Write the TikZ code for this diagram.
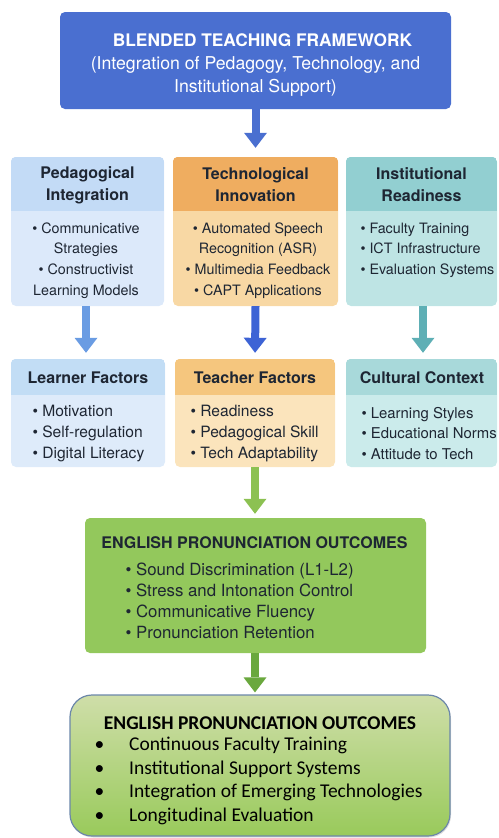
\documentclass[tikz,border=0pt]{standalone}
\usepackage{fontspec}
\setmainfont{TeX Gyre Heros}
\newfontfamily\calibri{Carlito}
\usetikzlibrary{arrows.meta,shadows}
\definecolor{frameblue}{HTML}{4A6FD0}
\definecolor{inkdark}{HTML}{1E2633}
\definecolor{pedH}{HTML}{C3DBF6}
\definecolor{pedB}{HTML}{DCE9FA}
\definecolor{techH}{HTML}{EFAD60}
\definecolor{techB}{HTML}{F8D8A4}
\definecolor{instH}{HTML}{92CFD1}
\definecolor{instB}{HTML}{BEE4E4}
\definecolor{learnH}{HTML}{C2DDF5}
\definecolor{learnB}{HTML}{DEEBFA}
\definecolor{teachH}{HTML}{F5C67E}
\definecolor{teachB}{HTML}{FBE4BC}
\definecolor{cultH}{HTML}{A8D9DA}
\definecolor{cultB}{HTML}{CBEBEB}
\definecolor{arrowL}{HTML}{6A9CE3}
\definecolor{arrowM}{HTML}{3D63D5}
\definecolor{arrowR}{HTML}{5EAFB5}
\definecolor{greenA}{HTML}{8CC152}
\definecolor{greenB}{HTML}{6AA83E}
\definecolor{outcome}{HTML}{93C85C}
\definecolor{recTop}{HTML}{CFDEA9}
\definecolor{recBot}{HTML}{99CA5B}
\definecolor{recLine}{HTML}{6C87AA}
\tikzset{
  box/.style={rounded corners=5pt, inner sep=0pt},
  headtxt/.style={font=\fontsize{16}{22}\selectfont\bfseries, text=inkdark, align=center},
  listtxt/.style={font=\fontsize{14.3}{20.6}\selectfont, text=inkdark},
  bigarrow/.style={line width=8pt, -{Triangle[width=23pt,length=15pt,line width=0pt]}},
}
\begin{document}
\begin{tikzpicture}[x=1pt,y=-1pt]
\useasboundingbox (0,0) rectangle (498,838);
% framework box
\node[box, fill=frameblue, minimum width=391pt, minimum height=97pt] (frame) at (255.5,60.5) {};
\node[text=white, align=center, font=\fontsize{17.7}{23}\selectfont] (frametxt) at (255.5,65)
  {\hspace*{14pt}\textbf{\fontsize{17.3}{23}\selectfont BLENDED TEACHING FRAMEWORK}\\(Integration of Pedagogy, Technology, and\\Institutional Support)};
% first row
\node[box, fill=pedB, minimum width=153pt, minimum height=149pt] (ped) at (87.5,231.5) {};
\node[box, fill=techB, minimum width=165pt, minimum height=149pt] (tech) at (255.5,231.5) {};
\node[box, fill=instB, minimum width=151pt, minimum height=149pt] (inst) at (421.5,231.5) {};
\begin{scope}
  \clip[rounded corners=5pt] (ped.north west) rectangle (ped.south east);
  \fill[pedH] (ped.north west) rectangle ([yshift=-54pt]ped.north east);
\end{scope}
\begin{scope}
  \clip[rounded corners=5pt] (tech.north west) rectangle (tech.south east);
  \fill[techH] (tech.north west) rectangle ([yshift=-54pt]tech.north east);
\end{scope}
\begin{scope}
  \clip[rounded corners=5pt] (inst.north west) rectangle (inst.south east);
  \fill[instH] (inst.north west) rectangle ([yshift=-54pt]inst.north east);
\end{scope}
\node[headtxt] (pedhead) at (87.5,185) {Pedagogical\\Integration};
\node[headtxt] (techhead) at (255.5,185) {Technological\\Innovation};
\node[headtxt] (insthead) at (421.5,185) {Institutional\\Readiness};
\node[listtxt, align=center] (pedlist) at (86,260.5) {• Communicative\\Strategies\\• Constructivist\\Learning Models};
\node[listtxt, align=center] (techlist) at (258,260.5) {• Automated Speech\\Recognition (ASR)\\• Multimedia Feedback\\• CAPT Applications};
\node[listtxt, align=left, anchor=west] (instlist) at (357,250) {• Faculty Training\\• ICT Infrastructure\\• Evaluation Systems};
% second row
\node[box, fill=learnB, minimum width=154pt, minimum height=108pt] (learn) at (88,413) {};
\node[box, fill=teachB, minimum width=160pt, minimum height=108pt] (teach) at (255,413) {};
\node[box, fill=cultB, minimum width=151pt, minimum height=108pt] (cult) at (421.5,413) {};
\begin{scope}
  \clip[rounded corners=5pt] (learn.north west) rectangle (learn.south east);
  \fill[learnH] (learn.north west) rectangle ([yshift=-36pt]learn.north east);
\end{scope}
\begin{scope}
  \clip[rounded corners=5pt] (teach.north west) rectangle (teach.south east);
  \fill[teachH] (teach.north west) rectangle ([yshift=-36pt]teach.north east);
\end{scope}
\begin{scope}
  \clip[rounded corners=5pt] (cult.north west) rectangle (cult.south east);
  \fill[cultH] (cult.north west) rectangle ([yshift=-36pt]cult.north east);
\end{scope}
\node[headtxt] (learnhead) at (88,378) {Learner Factors};
\node[headtxt] (teachhead) at (255,378) {Teacher Factors};
\node[headtxt] (culthead) at (422,378) {Cultural Context};
\node[listtxt, font=\fontsize{15.6}{20.6}\selectfont, align=left, anchor=west] (learnlist) at (29,433.5) {• Motivation\\• Self-regulation\\• Digital Literacy};
\node[listtxt, font=\fontsize{15.6}{20.6}\selectfont, align=left, anchor=west] (teachlist) at (187,433.5) {• Readiness\\• Pedagogical Skill\\• Tech Adaptability};
\node[listtxt, font=\fontsize{14.9}{20.6}\selectfont, align=left, anchor=west] (cultlist) at (358,433.5) {• Learning Styles\\• Educational Norms\\• Attitude to Tech};
% outcomes
\node[box, fill=outcome, minimum width=341pt, minimum height=135pt] (out) at (255.5,585.5) {};
\node[font=\fontsize{16}{21}\selectfont\bfseries, text=inkdark] (outhead) at (254.5,543) {ENGLISH PRONUNCIATION OUTCOMES};
\node[font=\fontsize{16.8}{21.2}\selectfont, text=inkdark, align=left, anchor=west] (outlist) at (122,601)
  {• Sound Discrimination (L1-L2)\\• Stress and Intonation Control\\• Communicative Fluency\\• Pronunciation Retention};
% recommendations
\node[rounded corners=22pt, draw=recLine, line width=1.2pt, top color=recTop, bottom color=recBot,
  drop shadow={opacity=0.25, shadow xshift=1pt, shadow yshift=-1.5pt},
  minimum width=380pt, minimum height=141pt] (rec) at (260,765.5) {};
\node[font=\calibri\fontsize{19.5}{23}\selectfont\bfseries] (rechead) at (260,723) {ENGLISH PRONUNCIATION OUTCOMES};
\node[font=\calibri\fontsize{19.5}{23.5}\selectfont, align=left, anchor=west] (reclist) at (91,781)
  {•\hspace{25pt}Continuous Faculty Training\\•\hspace{25pt}Institutional Support Systems\\•\hspace{25pt}Integration of Emerging Technologies\\•\hspace{25pt}Longitudinal Evaluation};
% arrows
\draw[bigarrow, frameblue, shorten >=9pt] (frame.south) -- (frame.south |- tech.north);
\draw[bigarrow, arrowL, shorten >=6pt] (ped.south -| 86,0) -- (learn.north -| 86,0);
\draw[bigarrow, arrowM, shorten >=6pt] (tech.south) -- (teach.north);
\draw[bigarrow, arrowR, shorten >=6pt] (inst.south -| 423,0) -- (cult.north -| 423,0);
\draw[bigarrow, greenA, shorten >=4pt] (teach.south) -- (out.north -| teach.south);
\draw[bigarrow, greenB, shorten >=2pt] (out.south -| teach.south) -- (rec.north -| teach.south);
\end{tikzpicture}
\end{document}
